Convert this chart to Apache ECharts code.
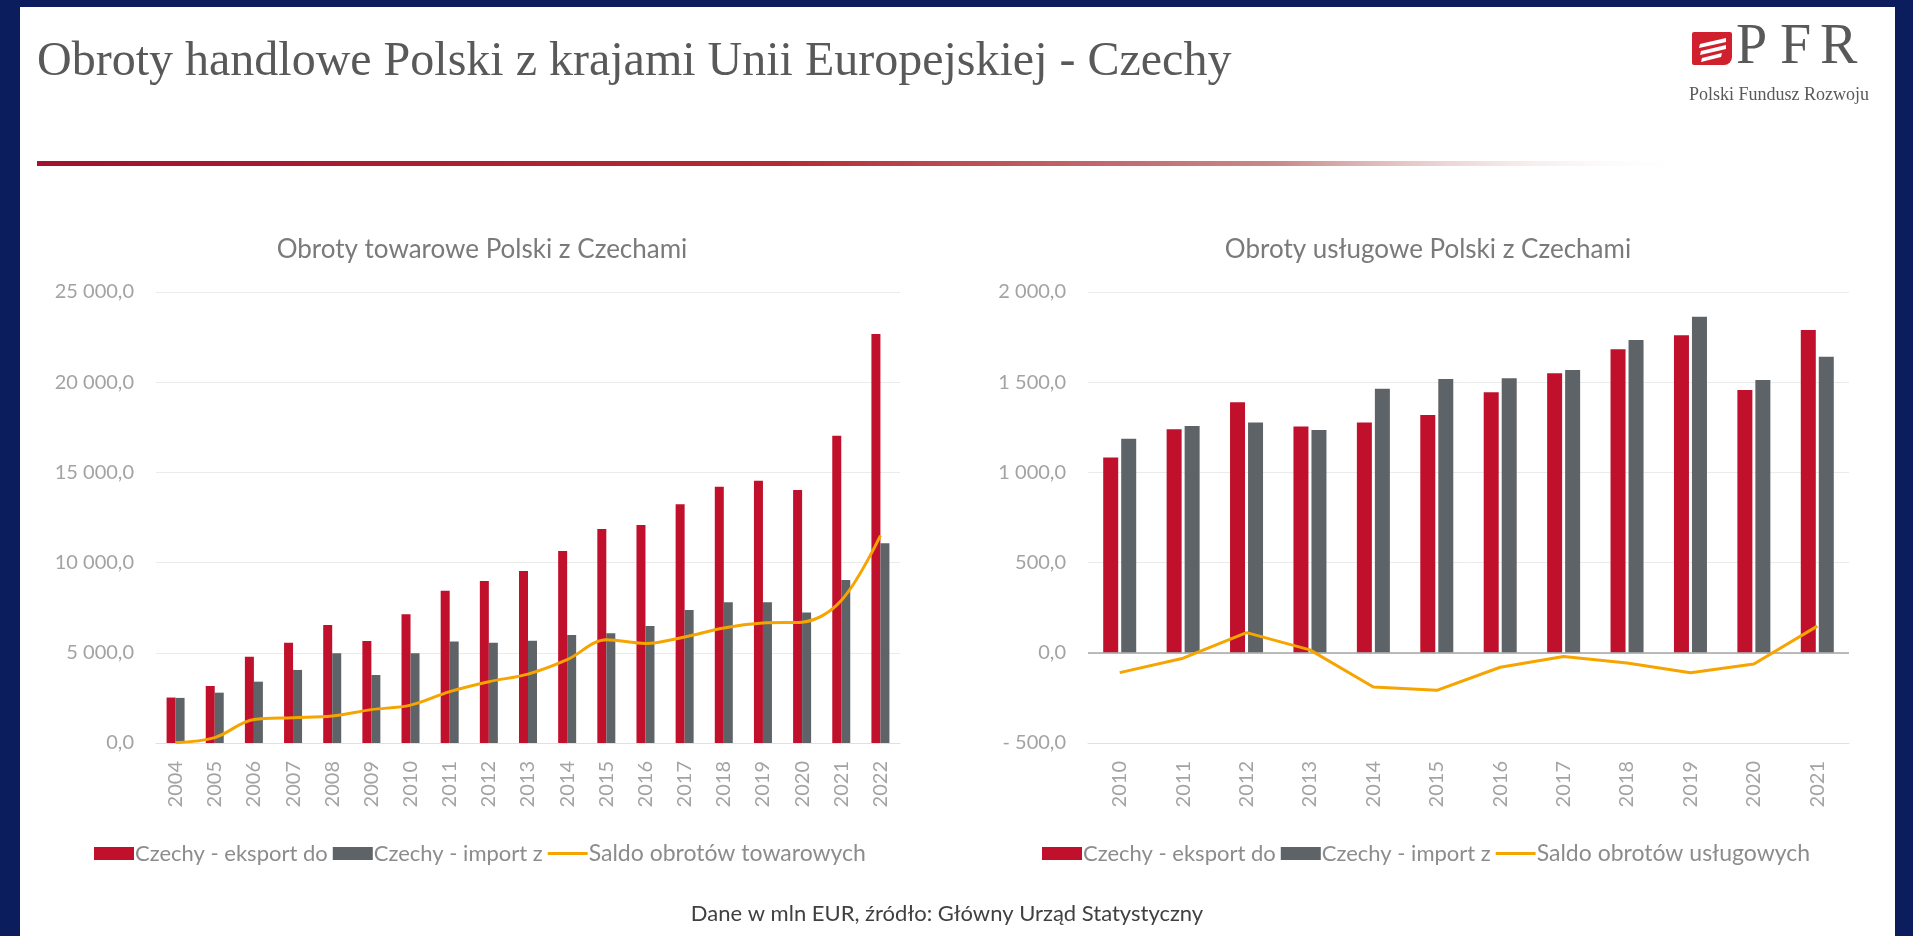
<!DOCTYPE html>
<html>
<head>
<meta charset="utf-8">
<title>Obroty handlowe Polski z Czechami</title>
<script src="https://cdn.jsdelivr.net/npm/echarts@6/dist/echarts.min.js"></script>
<style>
  html, body { margin: 0; padding: 0; background: #0c1d5e; }
  #main { width: 1913px; height: 936px; }
</style>
</head>
<body>
<div id="main"></div>
<script>
// obroty towarowe (mln EUR)
const goodsYears = ['2004', '2005', '2006', '2007', '2008', '2009', '2010', '2011', '2012', '2013',
  '2014', '2015', '2016', '2017', '2018', '2019', '2020', '2021', '2022']
const goodsExport = [2520, 3160, 4780, 5560, 6540, 5650, 7130, 8440, 8980, 9530,
  10640, 11860, 12080, 13230, 14210, 14540, 14020, 17030, 22670]
const goodsImport = [2500, 2790, 3400, 4050, 4970, 3770, 4970, 5620, 5560, 5670,
  5990, 6080, 6490, 7370, 7800, 7800, 7240, 9030, 11070]
const goodsSaldo = [20, 300, 1300, 1400, 1500, 1850, 2100, 2850, 3400, 3820,
  4620, 5720, 5520, 5880, 6380, 6650, 6700, 7900, 11500]

// obroty usługowe (mln EUR)
const servYears = ['2010', '2011', '2012', '2013', '2014', '2015', '2016', '2017', '2018', '2019', '2020', '2021']
const servExport = [1083, 1239, 1389, 1254, 1276, 1318, 1444, 1549, 1682, 1760, 1457, 1789]
const servImport = [1187, 1257, 1276, 1235, 1464, 1518, 1522, 1568, 1734, 1863, 1512, 1641]
const servSaldo = [-110, -30, 112, 16, -190, -208, -80, -20, -56, -110, -62, 148]

const goodsTicks = { min: 0, max: 25000, interval: 5000 }
const servTicks = { min: -500, max: 2000, interval: 500 }

const RED = '#c0102b'
const GREY = '#5e6367'
const ORANGE = '#f6a400'
const FONT = 'Lato'
// cienka linia jako ikona legendy dla serii liniowej
const LINE_ICON = 'path://M0,5h40v3h-40z M0,0h0.05v0.05h-0.05z M0,13h0.05v0.05h-0.05z'

function fmt (v) {
  const parts = Math.abs(v).toFixed(1).split('.')
  parts[0] = parts[0].replace(/\B(?=(\d{3})+(?!\d))/g, ' ')
  return (v < 0 ? '- ' : '') + parts.join(',')
}

function yAxis (ticks) {
  return {
    type: 'value',
    min: ticks.min,
    max: ticks.max,
    interval: ticks.interval,
    axisLine: { show: false },
    axisTick: { show: false },
    axisLabel: { formatter: fmt, color: '#a3a3a3', fontSize: 20, fontFamily: FONT, margin: 22 },
    splitLine: { lineStyle: { color: '#ebebeb', width: 1 } }
  }
}

function xAxis (data) {
  return {
    type: 'category',
    data: data,
    axisLine: { show: true, onZero: false, lineStyle: { color: '#e0e0e0' } },
    axisTick: { show: false },
    axisLabel: { rotate: 90, color: '#a3a3a3', fontSize: 20, fontFamily: FONT, margin: 18, interval: 0 }
  }
}

function legend (left, saldoName) {
  return {
    left: left, top: 837, itemWidth: 40, itemHeight: 13, itemGap: 5,
    textStyle: { color: '#8c8c8c', fontSize: 22, fontFamily: FONT, padding: [0, 0, 0, -4] },
    data: [
      { name: 'Czechy - eksport do', icon: 'rect' },
      { name: 'Czechy - import z', icon: 'rect' },
      { name: saldoName, icon: LINE_ICON, textStyle: { fontSize: 23 } }
    ]
  }
}

const chart = echarts.init(document.getElementById('main'))
chart.setOption({
  backgroundColor: '#0c1d5e',
  animation: false,
  textStyle: { fontFamily: FONT },
  graphic: [
    { type: 'rect', shape: { x: 20, y: 7, width: 1875, height: 929 }, style: { fill: '#ffffff' }, z: -10 },
    {
      type: 'text', left: 37, top: 38,
      style: { text: 'Obroty handlowe Polski z krajami Unii Europejskiej - Czechy', font: '48px "Liberation Serif"', fill: '#595959' }
    },
    {
      type: 'rect', shape: { x: 37, y: 161, width: 1656, height: 5 },
      style: {
        fill: new echarts.graphic.LinearGradient(0, 0, 1, 0, [
          { offset: 0, color: '#a3112c' },
          { offset: 0.45, color: '#b42b36' },
          { offset: 0.75, color: '#c98a8a' },
          { offset: 1, color: 'rgba(255,255,255,0)' }
        ])
      }
    },
    // logo PFR
    { type: 'rect', shape: { x: 1692, y: 32, width: 40, height: 33, r: [2, 2, 8, 2] }, style: { fill: '#d0202e' } },
    { type: 'polygon', shape: { points: [[1700, 44], [1726, 38], [1726, 42], [1699, 48]] }, style: { fill: '#ffffff' } },
    { type: 'polygon', shape: { points: [[1701, 51], [1726, 45], [1726, 49], [1700, 55]] }, style: { fill: '#ffffff' } },
    { type: 'polygon', shape: { points: [[1702, 58], [1722, 53], [1721, 57], [1701, 62]] }, style: { fill: '#ffffff' } },
    { type: 'text', left: 1736, top: 20, style: { text: 'P', font: '56px "Liberation Serif"', fill: '#595959' } },
    { type: 'text', left: 1780, top: 20, style: { text: 'F', font: '56px "Liberation Serif"', fill: '#595959' } },
    { type: 'text', left: 1820, top: 20, style: { text: 'R', font: '56px "Liberation Serif"', fill: '#595959' } },
    {
      type: 'text', left: 1689, top: 86,
      style: { text: 'Polski Fundusz Rozwoju', font: '18px "Liberation Serif"', fill: '#595959' }
    },
    {
      type: 'text', x: 947, y: 903,
      style: { text: 'Dane w mln EUR, źródło: Główny Urząd Statystyczny', font: '22px ' + FONT, fill: '#404040', align: 'center' }
    }
  ],
  title: [
    {
      text: 'Obroty towarowe Polski z Czechami', left: 477, top: 232, textAlign: 'center',
      textStyle: { color: '#7a7a7a', fontSize: 26, fontWeight: 'normal', fontFamily: FONT }
    },
    {
      text: 'Obroty usługowe Polski z Czechami', left: 1423, top: 232, textAlign: 'center',
      textStyle: { color: '#7a7a7a', fontSize: 26, fontWeight: 'normal', fontFamily: FONT }
    }
  ],
  legend: [
    legend(89, 'Saldo obrotów towarowych'),
    legend(1037, 'Saldo obrotów usługowych')
  ],
  grid: [
    { left: 156, right: 1013, top: 292, height: 451 },
    { left: 1088, right: 64, top: 292, height: 451 }
  ],
  xAxis: [
    Object.assign(xAxis(goodsYears), { gridIndex: 0 }),
    Object.assign(xAxis(servYears), { gridIndex: 1 })
  ],
  yAxis: [
    Object.assign(yAxis(goodsTicks), { gridIndex: 0 }),
    Object.assign(yAxis(servTicks), { gridIndex: 1 })
  ],
  series: [
    {
      name: 'Czechy - eksport do', type: 'bar', xAxisIndex: 0, yAxisIndex: 0,
      barWidth: 9, barGap: '0%', itemStyle: { color: RED }, data: goodsExport
    },
    {
      name: 'Czechy - import z', type: 'bar', xAxisIndex: 0, yAxisIndex: 0,
      barWidth: 9, barGap: '0%', itemStyle: { color: GREY }, data: goodsImport
    },
    {
      name: 'Saldo obrotów towarowych', type: 'line', xAxisIndex: 0, yAxisIndex: 0,
      smooth: 0.35, symbol: 'none', lineStyle: { color: ORANGE, width: 3 }, itemStyle: { color: ORANGE },
      data: goodsSaldo
    },
    {
      name: 'Czechy - eksport do', type: 'bar', xAxisIndex: 1, yAxisIndex: 1,
      barWidth: 15, barGap: '20%', itemStyle: { color: RED }, data: servExport,
      markLine: {
        silent: true, symbol: 'none', label: { show: false },
        lineStyle: { color: '#a6a6a6', type: 'solid', width: 1.5 },
        data: [{ yAxis: 0 }]
      }
    },
    {
      name: 'Czechy - import z', type: 'bar', xAxisIndex: 1, yAxisIndex: 1,
      barWidth: 15, barGap: '20%', itemStyle: { color: GREY }, data: servImport
    },
    {
      name: 'Saldo obrotów usługowych', type: 'line', xAxisIndex: 1, yAxisIndex: 1,
      symbol: 'none', lineStyle: { color: ORANGE, width: 3 }, itemStyle: { color: ORANGE },
      data: servSaldo, z: 5
    }
  ]
})
</script>
</body>
</html>
